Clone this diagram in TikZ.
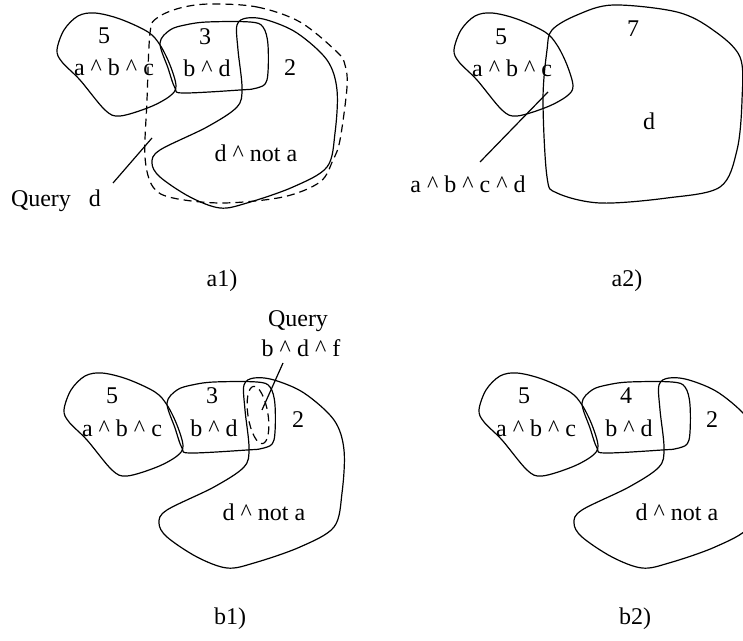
\documentclass[tikz,border=0pt]{standalone}
\usepackage{fontspec}
\setmainfont{Liberation Serif}
\newcommand\cf{\textasciicircum}
\newcommand\drawBlobA{\draw[blob] plot[smooth cycle, tension=0.55] coordinates {(57,50) (64,30) (78,16) (95,13) (120,19) (148,32) (160,45) (170,65) (176,86) (170,96) (150,107) (120,116) (105,110) (80,80) (62,62)};}
\newcommand\drawBlobB{\draw[blob] plot[smooth cycle, tension=0.55] coordinates {(160,43) (170,30) (185,25) (207,22) (250,22) (263,27) (268,45) (267,80) (257,88) (240,90) (183,93) (175,88) (168,68)};}
\newcommand\drawBlobC{\draw[blob] plot[smooth cycle, tension=0.55] coordinates {(237,25) (247,18) (267,20) (297,33) (327,60) (337,90) (335,133) (327,167) (293,187) (247,203) (220,208) (190,197) (160,177) (152,163) (160,150) (207,127) (237,107) (242,88) (238,50)};}
\tikzset{
  lbl/.style={font=\fontsize{12}{14}\selectfont, inner sep=0pt, anchor=base},
  blob/.style={line width=0.6pt, line join=round},
  qblob/.style={blob, dash pattern=on 4pt off 2.5pt},
  lead/.style={line width=0.6pt}
}
\begin{document}
\begin{tikzpicture}[x=0.5pt,y=-0.5pt]
\useasboundingbox (0,0) rectangle (743,641);
\clip (0,0) rectangle (743,641);

% ---------- a1 ----------
\drawBlobA
\drawBlobB
\drawBlobC
\draw[qblob] plot[smooth cycle, tension=0.55] coordinates {(210,4) (257,7) (300,22) (337,52) (345,65) (347,87) (340,140) (333,160) (320,182) (283,197) (223,203) (173,198) (153,187) (145,157) (147,100) (150,33) (157,18) (180,8)};
\node[lbl] (a1five) at (104,44) {5};
\node[lbl] (a1abc) at (114,76) {a \cf{} b \cf{} c};
\node[lbl] (a1three) at (205,45) {3};
\node[lbl] (a1bd) at (207,77) {b \cf{} d};
\node[lbl] (a1two) at (290,76) {2};
\node[lbl] (a1dna) at (256,162) {d \cf{} not a};
\node[lbl] (a1q) at (56,207) {Query\hspace{9pt}d};
\coordinate (a1qs) at (113,183);
\coordinate (a1qe) at (152,138);
\draw[lead] (a1qs) -- (a1qe);
\node[lbl] (a1lab) at (222,286) {a1)};

% ---------- a2 ----------
\begin{scope}[shift={(397,0)}]
\drawBlobA
\end{scope}
\draw[blob] plot[smooth cycle, tension=0.55] coordinates {(552,30) (577,15) (613,5) (677,12) (713,30) (740,57) (742,100) (737,150) (720,187) (667,198) (600,203) (557,193) (547,177) (543,100) (547,50)};
\node[lbl] (a2five) at (501,45) {5};
\node[lbl] (a2abc) at (512,77) {a \cf{} b \cf{} c};
\node[lbl] (a2seven) at (633,37) {7};
\node[lbl] (a2d) at (649,130) {d};
\node[lbl] (a2abcd) at (468,193) {a \cf{} b \cf{} c \cf{} d};
\coordinate (a2ls) at (480,162);
\coordinate (a2le) at (548,92);
\draw[lead] (a2ls) -- (a2le);
\node[lbl] (a2lab) at (627,286) {a2)};

% ---------- b1 ----------
\begin{scope}[shift={(7,360)}]
\drawBlobA
\drawBlobB
\drawBlobC
\end{scope}
\coordinate (b1qc) at (258,415);
\draw[qblob, rotate around={9:(b1qc)}] (b1qc) ellipse [x radius=10, y radius=29];
\node[lbl] (b1five) at (112,403) {5};
\node[lbl] (b1abc) at (122,436) {a \cf{} b \cf{} c};
\node[lbl] (b1three) at (212,403) {3};
\node[lbl] (b1bd) at (214,436) {b \cf{} d};
\node[lbl] (b1two) at (298,427) {2};
\node[lbl] (b1dna) at (264,520) {d \cf{} not a};
\node[lbl] (b1query) at (298,327) {Query};
\node[lbl] (b1bdf) at (301,357) {b \cf{} d \cf{} f};
\coordinate (b1ls) at (283,363);
\coordinate (b1le) at (262,410);
\draw[lead] (b1ls) -- (b1le);
\node[lbl] (b1lab) at (230,624) {b1)};

% ---------- b2 ----------
\begin{scope}[shift={(422,360)}]
\drawBlobA
\drawBlobB
\drawBlobC
\end{scope}
\node[lbl] (b2five) at (524,403) {5};
\node[lbl] (b2abc) at (536,436) {a \cf{} b \cf{} c};
\node[lbl] (b2four) at (626,403) {4};
\node[lbl] (b2bd) at (629,436) {b \cf{} d};
\node[lbl] (b2two) at (712,427) {2};
\node[lbl] (b2dna) at (677,520) {d \cf{} not a};
\node[lbl] (b2lab) at (635,624) {b2)};
\end{tikzpicture}
\end{document}
